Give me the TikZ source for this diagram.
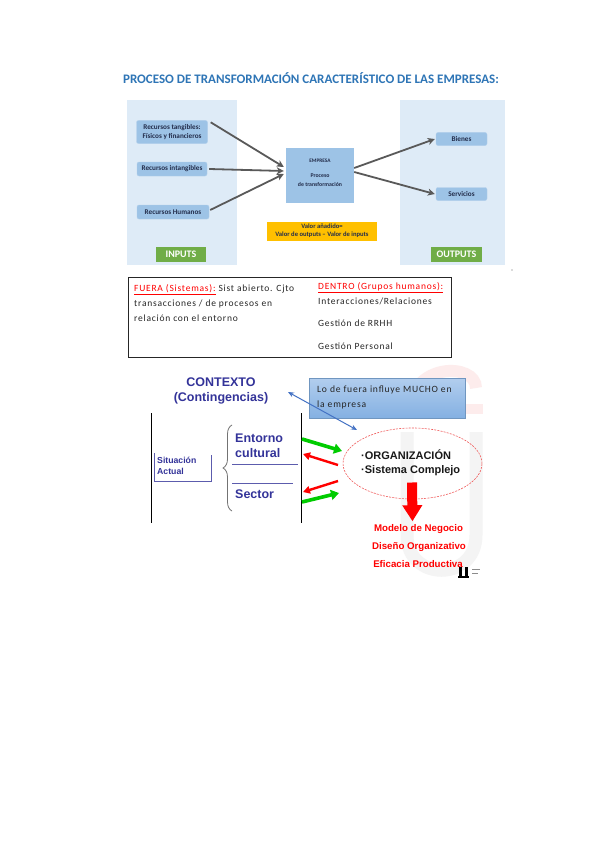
\documentclass[tikz,border=0pt]{standalone}
\usepackage{fontspec}
\setmainfont{Carlito}
\newfontfamily\arialf{Liberation Sans}
\newfontfamily\spacedf[LetterSpace=8]{Carlito}
\usetikzlibrary{arrows.meta,decorations.pathreplacing,shapes.geometric}
\definecolor{panelblue}{RGB}{222,235,247}
\definecolor{boxblue}{RGB}{157,195,230}
\definecolor{titleblue}{RGB}{46,117,182}
\definecolor{inpgreen}{RGB}{112,173,71}
\definecolor{valorange}{RGB}{255,192,0}
\definecolor{arrgray}{RGB}{89,89,89}
\definecolor{navy}{RGB}{51,51,153}
\definecolor{boxtext}{RGB}{35,45,75}
\definecolor{brightred}{RGB}{255,0,0}
\definecolor{brightgreen}{RGB}{0,204,0}
\definecolor{lineblue}{RGB}{68,114,196}
\definecolor{lofuetop}{RGB}{178,206,238}
\definecolor{lofuebot}{RGB}{132,176,226}
\definecolor{wmgray}{RGB}{244,244,244}
\definecolor{wmpink}{RGB}{253,236,236}
\definecolor{ellred}{RGB}{240,90,90}
\tikzset{
  panel/.style={fill=panelblue, draw=none},
  inbox/.style={fill=boxblue, draw=boxblue!80!white, rounded corners=2pt, text=boxtext,
    font=\bfseries\fontsize{7.2}{8.4}\selectfont, align=center, inner sep=0pt},
  labbox/.style={fill=inpgreen, text=white, font=\bfseries\fontsize{10}{10}\selectfont, inner sep=0pt},
  garrow/.style={draw=arrgray, line width=1.8pt, -{Stealth[length=7pt,width=7pt,inset=2pt]}},
  midtxt/.style={font=\spacedf\fontsize{9.5}{10}\selectfont, anchor=base west, inner sep=0pt, text=black!85},
  redtxt/.style={text=brightred, font=\arialf\bfseries\fontsize{9.7}{10}\selectfont, inner sep=0pt},
  navytxt/.style={text=navy, font=\arialf\bfseries\fontsize{12.5}{15}\selectfont, inner sep=0pt},
  grnarrow/.style={draw=brightgreen, line width=3.6pt, -{Triangle[length=8pt,width=10pt]}},
  rdarrow/.style={draw=brightred, line width=2.4pt, -{Triangle[length=7pt,width=7.5pt]}},
}
\begin{document}
\begin{tikzpicture}[x=1pt,y=-1pt]
\useasboundingbox[fill=white] (0,0) rectangle (599,848);

% ---------- title ----------
\node[text=titleblue, font=\bfseries\fontsize{13}{14}\selectfont, inner sep=0pt] (title) at (311,78)
  {PROCESO DE TRANSFORMACIÓN CARACTERÍSTICO DE LAS EMPRESAS:};

% ---------- panels ----------
\fill[panelblue] (127,100) rectangle (237,265);
\fill[panelblue] (400,100) rectangle (505,265);

% ---------- input boxes ----------
\node[inbox, minimum width=71pt, minimum height=23pt] (rt) at (172,132) {Recursos tangibles:\\Físicos y financieros};
\node[inbox, minimum width=70pt, minimum height=14pt] (ri) at (172,169) {Recursos intangibles};
\node[inbox, minimum width=72pt, minimum height=14pt] (rh) at (173,212) {Recursos Humanos};
\node[labbox, minimum width=50pt, minimum height=15pt] (inputs) at (181,254) {INPUTS};

% ---------- empresa ----------
\node[fill=boxblue, minimum width=68pt, minimum height=55pt, inner sep=0pt] (emp) at (320,175) {};
\node[text=boxtext, font=\bfseries\fontsize{5.3}{6}\selectfont, inner sep=0pt] (empt) at (320,161) {EMPRESA};
\node[text=boxtext, font=\bfseries\fontsize{5.8}{9}\selectfont, align=center, inner sep=0pt] (empp) at (320,180) {Proceso\\de transformación};

\node[fill=valorange, minimum width=110pt, minimum height=19pt, text=boxtext,
  font=\bfseries\fontsize{6.6}{8}\selectfont, align=center, inner sep=0pt] (valor) at (322,231)
  {Valor añadido=\\Valor de outputs -- Valor de inputs};

% ---------- output boxes ----------
\node[inbox, minimum width=51pt, minimum height=13pt] (bienes) at (461.5,139) {Bienes};
\node[inbox, minimum width=51pt, minimum height=13pt] (serv) at (461.5,194) {Servicios};
\node[labbox, minimum width=51pt, minimum height=15pt] (outputs) at (456.5,254) {OUTPUTS};

% ---------- gray arrows ----------
\draw[garrow] ([xshift=3pt,yshift=-2pt]rt.north east) -- ([xshift=-2pt,yshift=8pt]emp.west);
\draw[garrow] ([xshift=2pt]ri.east) -- ([xshift=-2pt,yshift=4pt]emp.west);
\draw[garrow] ([xshift=1pt,yshift=2pt]rh.east) -- ([xshift=-2pt,yshift=1pt]emp.west);
\draw[garrow] ([yshift=7pt]emp.east) -- ([xshift=-1pt]bienes.west);
\draw[garrow] ([yshift=3pt]emp.east) -- ([xshift=-1pt]serv.west);

\fill[black!60] (512,270) circle (0.7pt);

% ---------- middle box ----------
\node[draw=black!85, line width=0.9pt, minimum width=323pt, minimum height=80pt, inner sep=0pt] (mid) at (290,317) {};
\node[midtxt] (f1) at (134,291) {\textcolor{brightred}{\underline{FUERA (Sistemas):}} Sist abierto. Cjto};
\node[midtxt] (f2) at (134,306) {transacciones / de procesos en};
\node[midtxt] (f3) at (134,321) {relación con el entorno};
\node[midtxt] (d1) at (318,289) {\textcolor{brightred}{\underline{DENTRO (Grupos humanos):}}};
\node[midtxt] (d2) at (318,304) {Interacciones/Relaciones};
\node[midtxt] (d3) at (318,326) {Gestión de RRHH};
\node[midtxt] (d4) at (318,349) {Gestión Personal};

% ---------- watermark ----------
\draw[wmgray, line width=13pt] (407,432) -- (407,535) .. controls (407,582) and (476,582) .. (476,535) -- (476,432);
\draw[wmpink, line width=12pt] (409,414) .. controls (409,362) and (476,362) .. (476,388);
\draw[wmpink, line width=10pt] (455,409) -- (483,409);

% ---------- bottom ----------
\node[navytxt, align=center] (ctx) at (221,391) {CONTEXTO\\(Contingencias)};

\node[top color=lofuetop, bottom color=lofuebot, draw=lofuebot!85!black, line width=0.4pt,
  minimum width=156pt, minimum height=40pt, inner sep=0pt] (lofu) at (387,398) {};
\node[font=\spacedf\fontsize{9.6}{15}\selectfont, align=left, anchor=north west, inner sep=0pt, text=black!85] (lofut) at (317,386)
  {Lo de fuera influye MUCHO en\\la empresa};

\coordinate (vl1) at (151,413); \coordinate (vl2) at (151,523);
\coordinate (vr1) at (301,413); \coordinate (vr2) at (301,523);
\draw[black, line width=1pt] (vl1) -- (vl2);
\draw[black, line width=1pt] (vr1) -- (vr2);

\node[text=navy, font=\arialf\bfseries\fontsize{8.7}{11}\selectfont, align=left, anchor=west, inner sep=0pt] (sit) at (157,466) {Situación\\Actual};
\draw[navy!80, line width=0.8pt] (154,453) -- (154,481) -- (211,481) -- (211,455);

\draw[black!55, line width=0.8pt, decorate, decoration={brace, amplitude=9pt}] (232,511) -- (232,425);

\node[navytxt, align=left, anchor=west] (ent) at (235,446) {Entorno\\cultural};
\draw[navy!80, line width=0.8pt] (232,464) -- (298,464);
\draw[navy!80, line width=0.8pt] (232,483) -- (293,483);
\node[navytxt, anchor=west] (sec) at (235,494) {Sector};

\node[ellipse, draw=ellred, dashed, dash pattern=on 2pt off 1.2pt, line width=0.6pt,
  minimum width=139pt, minimum height=71pt, inner sep=0pt] (org) at (412.5,463.5) {};
\node[font=\arialf\bfseries\fontsize{11}{14.5}\selectfont, align=left, anchor=west, inner sep=0pt, text=black!90] (orgt) at (361,463)
  {·ORGANIZACIÓN\\·Sistema Complejo};

\coordinate (g1s) at (302,439); \coordinate (g1e) at (342,451);
\coordinate (r1s) at (338,465); \coordinate (r1e) at (303,454);
\coordinate (r2s) at (338,481); \coordinate (r2e) at (303,492);
\coordinate (g2s) at (302,502); \coordinate (g2e) at (339,493);
\draw[grnarrow] (g1s) -- (g1e);
\draw[rdarrow] (r1s) -- (r1e);
\draw[rdarrow] (r2s) -- (r2e);
\draw[grnarrow] (g2s) -- (g2e);

\coordinate (ba) at (288,392);
\coordinate (bb) at (357,430);
\draw[lineblue, line width=1pt, {Stealth[length=6pt,width=5pt]}-{Stealth[length=6pt,width=5pt]}] (ba) -- (bb);

\node[redtxt] (m1) at (418.5,529) {Modelo de Negocio};
\node[redtxt] (m2) at (419,547) {Diseño Organizativo};
\node[redtxt] (m3) at (418,564) {Eficacia Productiva};
\draw[brightred, line width=10pt, -{Triangle[length=16pt,width=19pt]}] ([xshift=-0.5pt,yshift=-19pt]org.center) -- ([xshift=-6pt,yshift=3pt]m1.north);

% small logo
\fill[black] (459,567) rectangle (461.5,577);
\fill[black] (465,567) rectangle (467.5,577);
\fill[black] (458,576) rectangle (469,577.5);
\draw[black!45, line width=0.6pt] (472,569) -- (480,569);
\draw[black!45, line width=0.6pt] (472,573) -- (478,573);
\end{tikzpicture}
\end{document}
